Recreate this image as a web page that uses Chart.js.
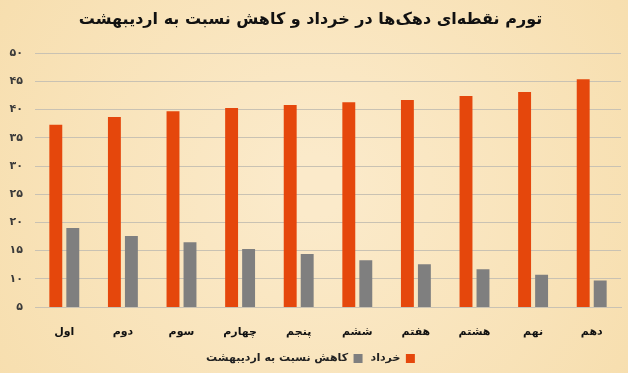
<!DOCTYPE html>
<html>
<head>
<meta charset="utf-8">
<script src="https://cdn.jsdelivr.net/npm/chart.js@4"></script>
<style>
  html, body { margin: 0; padding: 0; background: #f8e4b6; }
  #wrap { width: 628px; height: 373px; position: relative; }
</style>
</head>
<body>
<div id="wrap"><canvas id="tavarom_chart"></canvas></div>
<script>
const chart_title = 'تورم نقطه‌ای دهک‌ها در خرداد و کاهش نسبت به اردیبهشت';
const dahak_labels = ['اول', 'دوم', 'سوم', 'چهارم', 'پنجم', 'ششم', 'هفتم', 'هشتم', 'نهم', 'دهم'];
const khordad_data = [37.3, 38.7, 39.7, 40.3, 40.8, 41.3, 41.7, 42.4, 43.1, 45.4];
const kahesh_data = [19.0, 17.6, 16.5, 15.3, 14.4, 13.3, 12.6, 11.7, 10.7, 9.7];
const series_names = ['خرداد', 'کاهش نسبت به اردیبهشت'];
const fa_digits = ['۰', '۱', '۲', '۳', '۴', '۵', '۶', '۷', '۸', '۹'];

const to_fa = n => String(n).replace(/\d/g, d => fa_digits[d]);

const bg_plugin = {
  id: 'bg_plugin',
  beforeDraw(chart) {
    const c = chart.ctx;
    const w = chart.width, h = chart.height;
    const g = c.createRadialGradient(w / 2, h / 2, 30, w / 2, h / 2, w * 0.7);
    g.addColorStop(0, '#fbeaca');
    g.addColorStop(1, '#f6dca9');
    c.save();
    c.fillStyle = g;
    c.fillRect(0, 0, w, h);
    c.restore();
  }
};

const font_fa = '"DejaVu Sans", "Noto Sans", sans-serif';

const tavarom_chart = new Chart(document.getElementById('tavarom_chart'), {
  type: 'bar',
  data: {
    labels: dahak_labels,
    datasets: [{
      label: series_names[0],
      data: khordad_data,
      backgroundColor: '#e5470c',
      categoryPercentage: 0.58,
      barPercentage: 0.76
    }, {
      label: series_names[1],
      data: kahesh_data,
      backgroundColor: '#7f7f7f',
      categoryPercentage: 0.58,
      barPercentage: 0.76
    }]
  },
  options: {
    responsive: true,
    maintainAspectRatio: false,
    animation: false,
    layout: { padding: { left: 0, right: 7, top: 6, bottom: 0 } },
    plugins: {
      title: {
        display: true,
        text: chart_title,
        color: '#111',
        font: { family: font_fa, size: 16, weight: 'bold' },
        padding: { top: 4, bottom: 24 }
      },
      legend: {
        display: true,
        position: 'bottom',
        rtl: true,
        maxHeight: 28,
        labels: {
          boxWidth: 9,
          boxHeight: 9,
          color: '#222',
          padding: 8,
          font: { family: font_fa, size: 11, weight: 'bold' }
        }
      },
      tooltip: { enabled: false }
    },
    scales: {
      x: {
        afterFit: s => { s.height = 38; },
        grid: { display: false, drawTicks: false },
        border: { color: '#c9c2b3' },
        ticks: {
          color: '#111',
          padding: 19,
          font: { family: font_fa, size: 11, weight: 'bold' }
        }
      },
      y: {
        min: 5,
        max: 50,
        afterFit: s => { s.width = 35; },
        grid: { color: '#c9c2b3', drawTicks: false },
        border: { display: false },
        ticks: {
          stepSize: 5,
          color: '#3a3a3a',
          padding: 12,
          font: { family: font_fa, size: 11, weight: 'bold' },
          callback: v => to_fa(v)
        }
      }
    }
  },
  plugins: [bg_plugin]
});
</script>
</body>
</html>
